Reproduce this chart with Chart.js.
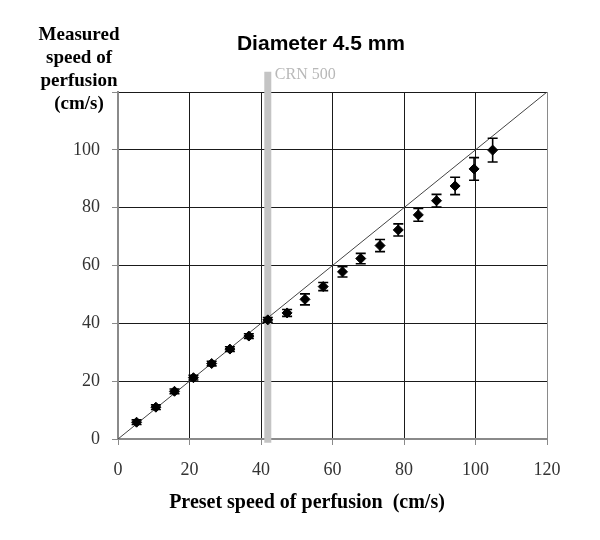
<!DOCTYPE html>
<html>
<head>
<meta charset="utf-8">
<script src="https://cdn.jsdelivr.net/npm/chart.js@4/dist/chart.umd.min.js"></script>
<style>
html,body{margin:0;padding:0;background:#fff;}
#wrap{width:600px;height:540px;}
</style>
</head>
<body>
<div id="wrap"><canvas id="c" width="600" height="540"></canvas></div>
<script>
// Data
const presetSpeed = [5.2, 10.6, 15.8, 21.1, 26.2, 31.3, 36.6, 41.9, 47.3, 52.3, 57.4, 62.8, 67.9, 73.3, 78.4, 84.0, 89.1, 94.3, 99.6, 104.8];
const measuredSpeed = [5.8, 11.0, 16.5, 21.2, 26.1, 31.1, 35.6, 41.2, 43.6, 48.3, 52.7, 57.8, 62.4, 66.9, 72.3, 77.5, 82.4, 87.5, 93.4, 99.9];
const measuredError = [0.8, 0.8, 0.8, 0.8, 0.8, 0.8, 0.8, 0.8, 1.2, 1.9, 1.4, 1.8, 1.8, 2.1, 2.1, 2.2, 2.2, 3.0, 3.9, 4.1];
const identityLine = [0, 120];
const crnX = 41.9;
const crnRange = [-1.3, 127];
const crnLabel = 'CRN 500';
const axisTicks = [0, 20, 40, 60, 80, 100, 120];
const chartTitle = 'Diameter 4.5 mm';
const yTitleLines = ['Measured', 'speed of', 'perfusion', '(cm/s)'];
const xTitle = 'Preset speed of perfusion  (cm/s)';

const points = presetSpeed.map((x, i) => ({x: x, y: measuredSpeed[i]}));

const errorBars = {
  id: 'errorBars',
  afterDatasetsDraw(chart) {
    const xs = chart.scales.x, ys = chart.scales.y, ctx = chart.ctx;
    ctx.save();
    ctx.strokeStyle = '#000';
    ctx.lineWidth = 1.6;
    presetSpeed.forEach((xv, i) => {
      const px = xs.getPixelForValue(xv);
      const top = ys.getPixelForValue(measuredSpeed[i] + measuredError[i]);
      const bot = ys.getPixelForValue(measuredSpeed[i] - measuredError[i]);
      ctx.beginPath();
      ctx.moveTo(px, top); ctx.lineTo(px, bot);
      ctx.moveTo(px - 5, top); ctx.lineTo(px + 5, top);
      ctx.moveTo(px - 5, bot); ctx.lineTo(px + 5, bot);
      ctx.stroke();
    });
    ctx.restore();
  }
};

const texts = {
  id: 'texts',
  afterDraw(chart) {
    const ctx = chart.ctx, xs = chart.scales.x, ys = chart.scales.y;
    ctx.save();
    ctx.fillStyle = '#000';
    ctx.textAlign = 'center';
    ctx.textBaseline = 'middle';
    ctx.font = 'bold 21px "Liberation Sans", Arial, sans-serif';
    ctx.fillText(chartTitle, 321, 44);
    ctx.font = 'bold 19px "Liberation Serif", "Times New Roman", serif';
    yTitleLines.forEach((t, i) => ctx.fillText(t, 79, 35 + i * 23));
    ctx.font = 'bold 20px "Liberation Serif", "Times New Roman", serif';
    ctx.fillText(xTitle, 307, 503);
    ctx.textAlign = 'left';
    ctx.fillStyle = '#b8b8b8';
    ctx.font = '16px "Liberation Serif", "Times New Roman", serif';
    ctx.fillText(crnLabel, xs.getPixelForValue(crnX) + 7, 75);
    ctx.restore();
  }
};

const gridColor = (edgeVal) => (ctx) => {
  const v = ctx.tick ? ctx.tick.value : null;
  if (v === 0) return '#8a8a8a';
  if (v === edgeVal) return '#8a8a8a';
  return '#1a1a1a';
};

new Chart(document.getElementById('c'), {
  type: 'scatter',
  data: {
    datasets: [
      {
        label: 'measured',
        data: points,
        pointStyle: 'rectRot',
        pointRadius: 5,
        pointBackgroundColor: '#000',
        pointBorderColor: '#000',
        pointBorderWidth: 1,
        showLine: false
      },
      {
        label: 'identity',
        type: 'line',
        data: identityLine.map(v => ({x: v, y: v})),
        borderColor: '#444',
        borderWidth: 1,
        pointRadius: 0,
        fill: false
      },
      {
        label: 'crn',
        type: 'line',
        data: crnRange.map(v => ({x: crnX, y: v})),
        borderColor: '#c4c4c4',
        borderWidth: 7,
        borderCapStyle: 'butt',
        pointRadius: 0,
        fill: false,
        clip: false
      }
    ]
  },
  options: {
    responsive: false,
    animation: false,
    devicePixelRatio: 1,
    layout: {padding: {top: 92, right: 53, left: 0, bottom: 0}},
    plugins: {legend: {display: false}, tooltip: {enabled: false}, title: {display: false}},
    scales: {
      x: {
        type: 'linear', min: 0, max: 120,
        afterBuildTicks: (s) => { s.ticks = axisTicks.map(v => ({value: v})); },
        afterFit: (s) => { s.height = 101; },
        ticks: {
          color: '#333', padding: 14,
          font: {family: '"Liberation Serif", "Times New Roman", serif', size: 18}
        },
        grid: {color: gridColor(120), tickColor: '#8a8a8a', tickLength: 6, lineWidth: 1},
        border: {color: '#8a8a8a', width: 2}
      },
      y: {
        type: 'linear', min: 0, max: 120,
        afterBuildTicks: (s) => { s.ticks = axisTicks.map(v => ({value: v})); },
        afterFit: (s) => { s.width = 118; },
        ticks: {
          color: '#333', padding: 12,
          font: {family: '"Liberation Serif", "Times New Roman", serif', size: 18},
          callback: (v) => (v === 120 ? '' : v)
        },
        grid: {color: (ctx) => (ctx.tick && ctx.tick.value === 0 ? '#8a8a8a' : '#1a1a1a'), tickColor: '#8a8a8a', tickLength: 6, lineWidth: 1},
        border: {color: '#8a8a8a', width: 2}
      }
    }
  },
  plugins: [errorBars, texts]
});
</script>
</body>
</html>
